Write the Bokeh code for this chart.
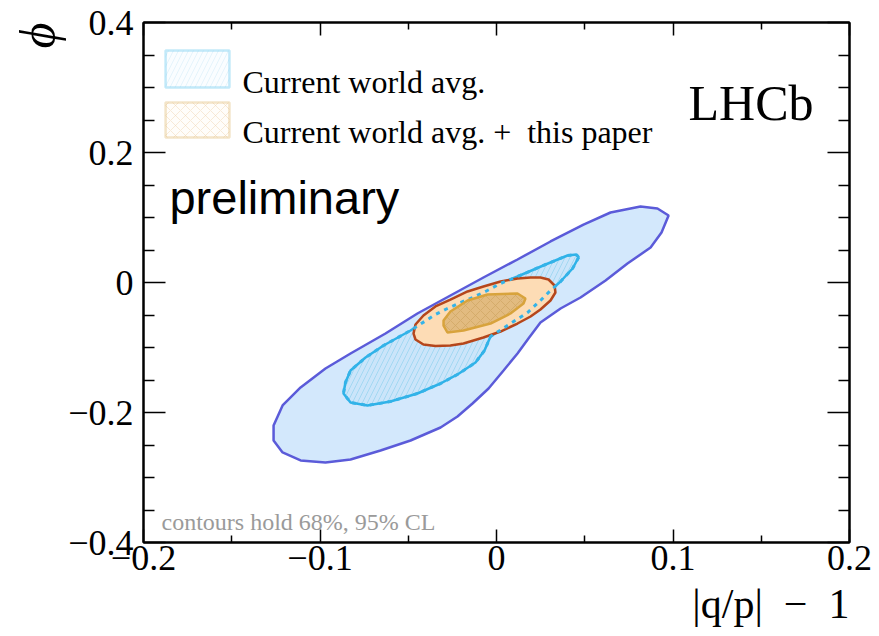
import math
from bokeh.plotting import figure
from bokeh.models import (Range1d, FixedTicker, LinearAxis, Label, BoxAnnotation,
                          CustomJSTickFormatter, Title)
from bokeh.embed import file_html
from bokeh.resources import INLINE

# ---------------- data ----------------
x_ticks = [-0.2, -0.1, 0.0, 0.1, 0.2]
x_tick_labels = ["\u22120.2", "\u22120.1", "0", "0.1", "0.2"]
x_minor = [-0.15, -0.05, 0.05, 0.15]
y_ticks = [-0.4, -0.2, 0.0, 0.2, 0.4]
y_tick_labels = ["\u22120.4", "\u22120.2", "0", "0.2", "0.4"]
y_minor = [-0.35, -0.3, -0.25, -0.15, -0.1, -0.05, 0.05, 0.1, 0.15, 0.25, 0.3, 0.35]

# world average, 95% CL
x_wa95 = [0.0975, 0.0935, 0.0873, 0.0742, 0.0618, 0.0476, 0.0363, 0.0249, 0.0181, 0.0119,
          0.0040, -0.0045, -0.0136, -0.0221, -0.0317, -0.0487, -0.0657, -0.0827, -0.0969, -0.1110,
          -0.1212, -0.1263, -0.1263, -0.1212, -0.1110, -0.0969, -0.0827, -0.0629, -0.0448, -0.0261,
          -0.0074, 0.0119, 0.0306, 0.0493, 0.0646, 0.0816, 0.0912]
y_wa95 = [0.1031, 0.0769, 0.0538, 0.0292, 0.0031, -0.0231, -0.0400, -0.0615, -0.0862, -0.1092,
          -0.1354, -0.1631, -0.1862, -0.2062, -0.2231, -0.2431, -0.2585, -0.2723, -0.2769, -0.2738,
          -0.2615, -0.2431, -0.2200, -0.1892, -0.1615, -0.1323, -0.1092, -0.0785, -0.0477, -0.0200,
          0.0077, 0.0354, 0.0631, 0.0892, 0.1077, 0.1169, 0.1138]

# world average, 68% CL
x_wa68 = [0.0465, 0.0431, 0.0363, 0.0306, 0.0249, 0.0176, 0.0062, -0.0034, -0.0068, -0.0119,
          -0.0221, -0.0317, -0.0448, -0.0601, -0.0731, -0.0827, -0.0867, -0.0856, -0.0827, -0.0742,
          -0.0640, -0.0487, -0.0346, -0.0278, -0.0204, -0.0136, -0.0062, 0.0023, 0.0119, 0.0278,
          0.0402, 0.0453]
y_wa68 = [0.0385, 0.0215, 0.0015, -0.0123, -0.0277, -0.0462, -0.0662, -0.0831, -0.1046, -0.1231,
          -0.1415, -0.1554, -0.1708, -0.1831, -0.1892, -0.1846, -0.1708, -0.1538, -0.1354, -0.1154,
          -0.0969, -0.0738, -0.0492, -0.0400, -0.0308, -0.0231, -0.0138, -0.0015, 0.0092, 0.0277,
          0.0415, 0.0431]

# world average + this paper, 95% CL
x_wp95 = [-0.0261, -0.0164, -0.0074, 0.0023, 0.0119, 0.0193, 0.0249, 0.0295, 0.0329, 0.0334,
          0.0306, 0.0249, 0.0193, 0.0119, 0.0023, -0.0074, -0.0187, -0.0261, -0.0346, -0.0414,
          -0.0459, -0.0470, -0.0459, -0.0414, -0.0346]
y_wp95 = [-0.0262, -0.0138, -0.0062, 0.0015, 0.0062, 0.0077, 0.0077, 0.0046, -0.0046, -0.0154,
          -0.0277, -0.0415, -0.0523, -0.0631, -0.0754, -0.0846, -0.0938, -0.0969, -0.0977, -0.0954,
          -0.0877, -0.0785, -0.0646, -0.0508, -0.0369]

# world average + this paper, 68% CL
x_wp68 = [-0.0300, -0.0261, -0.0164, -0.0051, 0.0119, 0.0164, 0.0153, 0.0079, -0.0034, -0.0187,
          -0.0278, -0.0300]
y_wp68 = [-0.0585, -0.0446, -0.0277, -0.0185, -0.0169, -0.0246, -0.0323, -0.0477, -0.0631, -0.0738,
          -0.0769, -0.0662]

NB = "\u00a0"
legend_labels = ["Current world avg.", "Current world avg. +" + NB + NB + "this paper"]
x_title = "|q/p|" + NB + NB + "\u2212" + NB + NB + "1"
y_title = "\u03d5"

# ---------------- styling ----------------
SERIF = "Liberation Serif"
SANS = "Liberation Sans"

p = figure(width=879, height=636, output_backend="svg", toolbar_location=None,
           x_range=Range1d(-0.2, 0.2), y_range=Range1d(-0.4, 0.4),
           min_border_left=143, min_border_right=30, min_border_top=22, min_border_bottom=94,
           background_fill_color="white", border_fill_color="white")
p.grid.visible = False
p.outline_line_color = "black"
p.outline_line_width = 2

xt = FixedTicker(ticks=x_ticks, minor_ticks=x_minor)
yt = FixedTicker(ticks=y_ticks, minor_ticks=y_minor)

def style_axis(ax, tick_in, minor_in):
    ax.axis_line_color = "black"
    ax.axis_line_width = 2
    ax.major_tick_in = tick_in
    ax.major_tick_out = 0
    ax.minor_tick_in = minor_in
    ax.minor_tick_out = 0
    ax.major_tick_line_color = "black"
    ax.major_tick_line_width = 1.5
    ax.minor_tick_line_color = "black"
    ax.minor_tick_line_width = 1.5

xa = p.xaxis[0]
xa.ticker = xt
style_axis(xa, 13, 7)
xa.major_label_overrides = dict(zip(x_ticks, x_tick_labels))
xa.major_label_text_font = SERIF
xa.major_label_text_font_size = "36px"
xa.major_label_text_color = "black"
xa.major_label_standoff = 3

ya = p.yaxis[0]
ya.ticker = yt
style_axis(ya, 22, 11)
ya.major_label_overrides = dict(zip(y_ticks, y_tick_labels))
ya.major_label_text_font = SERIF
ya.major_label_text_font_size = "36px"
ya.major_label_text_color = "black"
ya.major_label_standoff = 10

blank = CustomJSTickFormatter(code="return ''")
top = LinearAxis(ticker=xt, formatter=blank, major_label_text_font_size="1px",
                 major_label_standoff=0)
style_axis(top, 13, 7)
right = LinearAxis(ticker=yt, formatter=blank, major_label_text_font_size="1px",
                   major_label_standoff=0)
style_axis(right, 22, 11)
p.add_layout(top, "above")
p.add_layout(right, "right")

# axis titles as side-panel titles (outside the frame)
p.add_layout(Title(text=x_title, align="right", text_font=SERIF, text_font_size="42px",
                   text_font_style="normal", text_color="black", standoff=13, offset=0),
             "below")
p.add_layout(Title(text=y_title, align="right", text_font=SERIF, text_font_size="50px",
                   text_font_style="italic", text_color="black", standoff=0, offset=0),
             "left")

# ---------------- contours ----------------
p.patch(x_wa95, y_wa95, fill_color="#d3e8fc", line_color="#5b5bd9", line_width=2.5)
p.patch(x_wa68, y_wa68, fill_color="#c6e3f9", fill_alpha=0.6, line_color="#2eb2e8", line_width=2.5,
        hatch_pattern="/", hatch_color="#9ed6f2", hatch_scale=10, hatch_weight=1, hatch_alpha=0.9)
p.patch(x_wp95, y_wp95, fill_color="#fddcb5", line_color="#b5461b", line_width=2.5)
p.line(x_wa68 + x_wa68[:1], y_wa68 + y_wa68[:1], line_color="#35b3e8", line_width=3,
       line_dash="4 5")
p.patch(x_wp68, y_wp68, fill_color="#e2bb80", line_color="#d8a33c", line_width=2.5,
        hatch_pattern="x", hatch_color="#d0a562", hatch_scale=10, hatch_weight=1, hatch_alpha=0.7)

# ---------------- legend (manual) ----------------
p.add_layout(BoxAnnotation(left=-0.1875, right=-0.1513, top=0.3569, bottom=0.3000,
                           fill_color="#fafdff", fill_alpha=1.0, line_color="#3cb8ec",
                           line_width=2.5, hatch_pattern="/", hatch_color="#cfeaf8",
                           hatch_scale=10, hatch_weight=1, hatch_alpha=0.5, level="annotation"))
p.add_layout(BoxAnnotation(left=-0.1875, right=-0.1513, top=0.2769, bottom=0.2231,
                           fill_color="#fffdfa", fill_alpha=1.0, line_color="#d8a850",
                           line_width=2.5, hatch_pattern="x", hatch_color="#f0d6b4",
                           hatch_scale=10, hatch_weight=1, hatch_alpha=0.5, level="annotation"))
p.add_layout(Label(x=-0.1439, y=0.3077, text=legend_labels[0], text_font=SERIF,
                   text_font_size="32px", text_color="black", text_baseline="alphabetic"))
p.add_layout(Label(x=-0.1439, y=0.2308, text=legend_labels[1], text_font=SERIF,
                   text_font_size="32px", text_color="black", text_baseline="alphabetic"))

# ---------------- texts ----------------
p.add_layout(Label(x=0.1796, y=0.2754, text="LHCb", text_font=SERIF, text_font_size="50px",
                   text_align="right", text_baseline="alphabetic", text_color="black"))
p.add_layout(Label(x=-0.1853, y=0.1308, text="preliminary", text_font=SANS,
                   text_font_size="47px", text_baseline="alphabetic", text_color="black"))
p.add_layout(Label(x=-0.1898, y=-0.3677, text="contours hold 68%, 95% CL", text_font=SERIF,
                   text_font_size="24px", text_baseline="alphabetic", text_color="#9a9a9a"))

open("out.html", "w").write(file_html(p, INLINE))
